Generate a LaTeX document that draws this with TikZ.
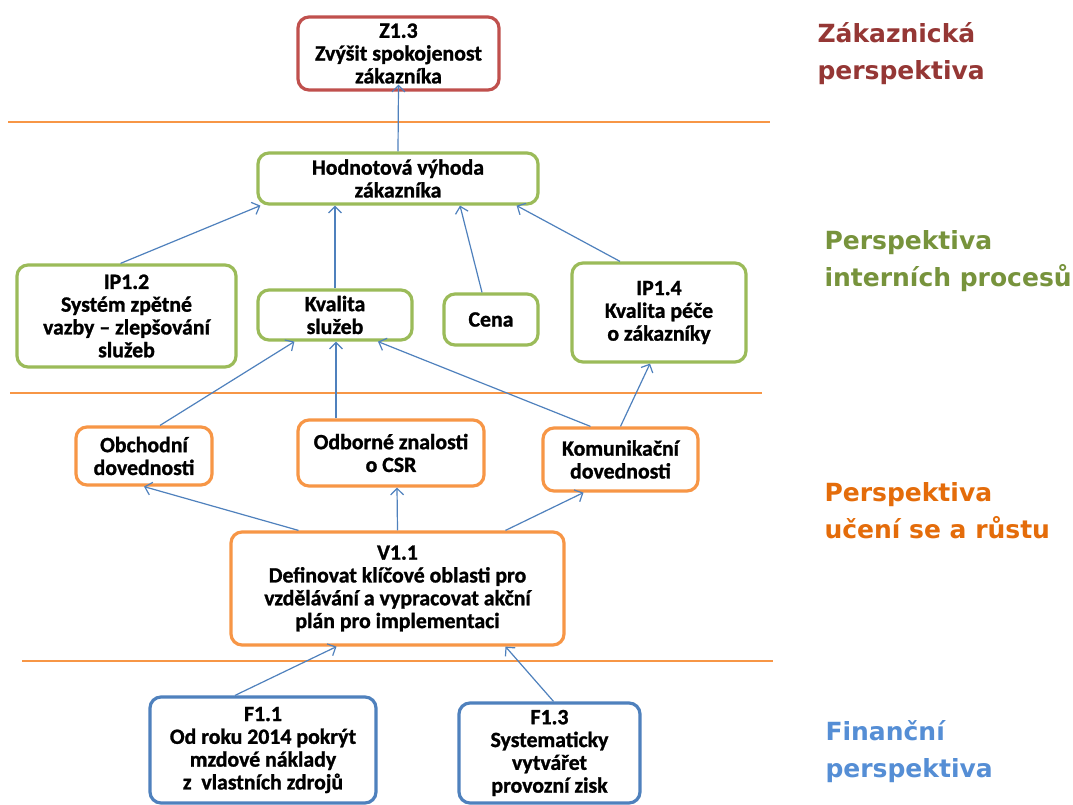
\documentclass[tikz,border=0pt]{standalone}
\usepackage{fontspec}
\setmainfont{Carlito}[BoldFeatures={FakeBold=1.2}]
\newfontfamily\persfont{DejaVu Sans}
\usetikzlibrary{arrows.meta,positioning}

\definecolor{goalred}{HTML}{C0504D}
\definecolor{goalgreen}{HTML}{9BBB59}
\definecolor{goalorange}{HTML}{F79646}
\definecolor{goalblue}{HTML}{4F81BD}
\definecolor{persred}{HTML}{953735}
\definecolor{persgreen}{HTML}{77933C}
\definecolor{persorange}{HTML}{E46C0A}
\definecolor{persblue}{HTML}{558ED5}

\tikzset{
  goal/.style={draw, line width=3.2pt, rounded corners=11pt, fill=white,
    align=center, inner sep=1pt, font=\bfseries\fontsize{21.8}{22.8}\selectfont},
  link/.style={draw=goalblue, line width=1.2pt, -{Straight Barb[length=6.5pt,width=13pt]}},
  sepline/.style={draw=goalorange, line width=1.1pt},
  persp/.style={anchor=west, align=left, font=\persfont\bfseries\fontsize{25}{37}\selectfont}
}

\begin{document}
\begin{tikzpicture}[x=1pt,y=-1pt]
\useasboundingbox[fill=white] (0,0) rectangle (1073,805);

% Separators between perspectives
\foreach \y/\l/\r in {122/8/770, 393/10/762, 661/22/773}
  \draw[sepline] (\l,\y) -- (\r,\y);

% Zakaznicka perspektiva
\node[goal, draw=goalred, minimum width=201pt, minimum height=73pt] (z13) at (398.5,53.5)
  {Z1.3\\Zvýšit spokojenost\\zákazníka};

% Perspektiva internich procesu
\node[goal, draw=goalgreen, minimum width=280pt, minimum height=51pt] (hv) at (398,178.5)
  {Hodnotová výhoda\\zákazníka};
\node[goal, draw=goalgreen, minimum width=219pt, minimum height=102pt] (ip12) at (126.5,316)
  {IP1.2\\Systém zpětné\\vazby -- zlepšování\\služeb};
\node[goal, draw=goalgreen, minimum width=154pt, minimum height=50pt] (kval) at (335,315)
  {Kvalita\\služeb};
\node[goal, draw=goalgreen, minimum width=94pt, minimum height=51pt] (cena) at (491,319.5)
  {Cena};
\node[goal, draw=goalgreen, minimum width=174pt, minimum height=99pt] (ip14) at (659,312.5)
  {IP1.4\\Kvalita péče\\o zákazníky};

% Perspektiva uceni se a rustu
\node[goal, draw=goalorange, minimum width=136pt, minimum height=58pt] (obch) at (144,456)
  {Obchodní\\dovednosti};
\node[goal, draw=goalorange, minimum width=186pt, minimum height=66pt] (odb) at (391,453)
  {Odborné znalosti\\o CSR};
\node[goal, draw=goalorange, minimum width=155pt, minimum height=63pt] (kom) at (620.5,459.5)
  {Komunikační\\dovednosti};
\node[goal, draw=goalorange, minimum width=333pt, minimum height=113pt] (v11) at (397.5,588.5)
  {V1.1\\Definovat klíčové oblasti pro\\vzdělávání a vypracovat akční\\plán pro implementaci};

% Financni perspektiva
\node[goal, draw=goalblue, minimum width=226pt, minimum height=106pt] (f11) at (263,750)
  {F1.1\\Od roku 2014 pokrýt\\mzdové náklady\\z~ vlastních zdrojů};
\node[goal, draw=goalblue, minimum width=181pt, minimum height=100pt] (f13) at (549.5,753)
  {F1.3\\Systematicky\\vytvářet\\provozní zisk};

% Links
\draw[link] (hv.north) -- ([yshift=7pt]z13.south);
\draw[link] ([xshift=-6pt]ip12.north) -- ([xshift=4pt]hv.south west);
\draw[link] (kval.north) -- ([xshift=-63pt]hv.south);
\draw[link] ([xshift=-9pt]cena.north) -- ([xshift=62pt]hv.south);
\draw[link] ([xshift=-39pt]ip14.north) -- ([xshift=-23pt]hv.south east);
\draw[link] ([xshift=16pt]obch.north) -- ([xshift=38pt]kval.south west);
\draw[link] ([xshift=-55pt]odb.north) -- ([xshift=1pt]kval.south);
\draw[link] ([xshift=-30pt]kom.north) -- ([xshift=43pt]kval.south);
\draw[link] (kom.north) -- ([xshift=-9pt]ip14.south);
\draw[link] ([xshift=-99pt]v11.north) -- (obch.south);
\draw[link] (v11.north) -- ([xshift=6pt]odb.south);
\draw[link] ([xshift=108pt]v11.north) -- ([xshift=-37pt]kom.south);
\draw[link] ([xshift=-28pt]f11.north) -- ([xshift=-61pt]v11.south);
\draw[link] ([xshift=4pt]f13.north) -- ([xshift=108pt]v11.south);

% Perspective labels
\node[persp, text=persred] (lzak) at (814,53.5) {Zákaznická\\perspektiva};
\node[persp, text=persgreen] (lint) at (821,261.5) {Perspektiva\\interních procesů};
\node[persp, text=persorange] (luc) at (821,510.5) {Perspektiva\\učení se a růstu};
\node[persp, text=persblue] (lfin) at (822,752) {Finanční\\perspektiva};
\end{tikzpicture}
\end{document}
